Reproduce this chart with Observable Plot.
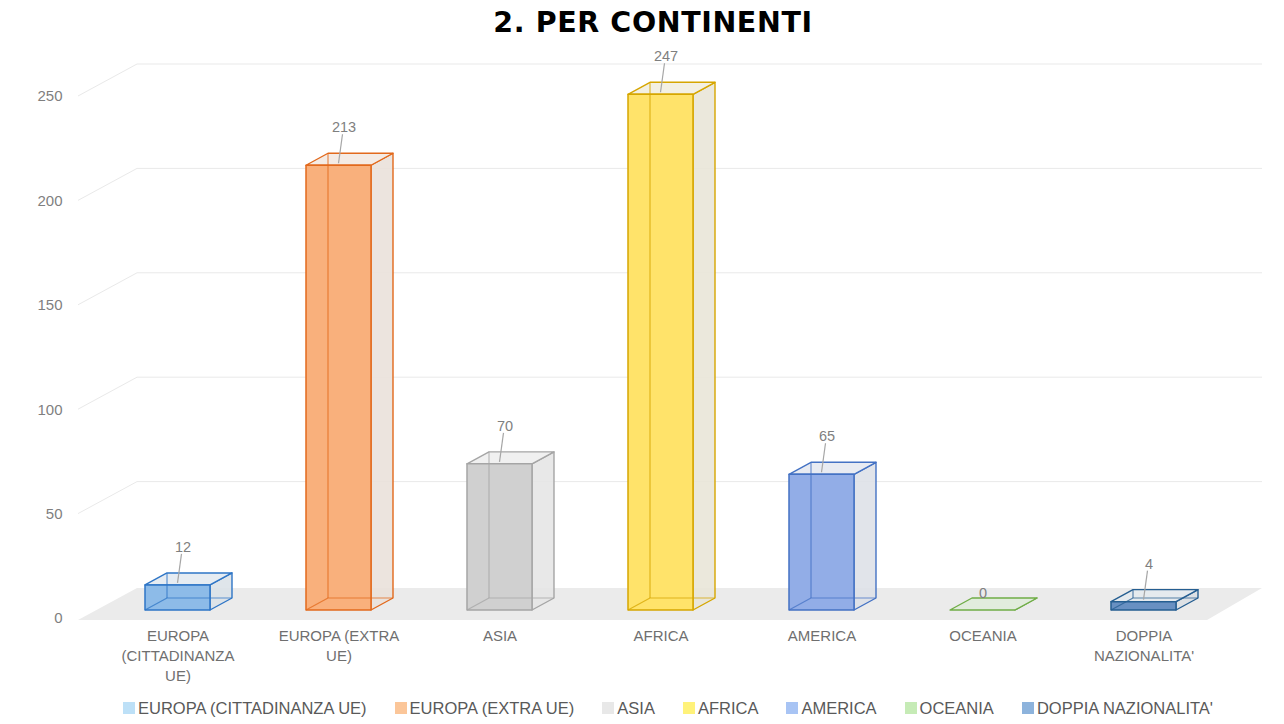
<!DOCTYPE html>
<html><head><meta charset="utf-8">
<script src="https://cdn.jsdelivr.net/npm/d3@7"></script>
<script src="https://cdn.jsdelivr.net/npm/@observablehq/plot@0.6"></script>
<style>
body{margin:0;background:#fff;font-family:"Liberation Sans",Arial,sans-serif;width:1284px;height:724px;overflow:hidden;}
#title{height:46px;line-height:46px;text-align:center;font-family:"DejaVu Sans",sans-serif;font-weight:bold;font-size:28.5px;letter-spacing:0.6px;color:#000;padding-left:22px;}
#chart{height:650px;}
#legend{display:flex;justify-content:center;align-items:center;height:24px;padding-left:52px;font-size:16.5px;color:#595959;}
#legend .item{display:flex;align-items:center;margin:0 14px;}
#legend .sw{width:12px;height:12px;margin-right:3px;}
</style></head><body>
<div id="title">2. PER CONTINENTI</div>
<div id="chart"></div>
<div id="legend"></div>
<script>
const categories = ["EUROPA (CITTADINANZA UE)", "EUROPA (EXTRA UE)", "ASIA", "AFRICA", "AMERICA", "OCEANIA", "DOPPIA NAZIONALITA'"];
const values = [12, 213, 70, 247, 65, 0, 4];
const tickLabels = ["EUROPA\n(CITTADINANZA\nUE)", "EUROPA (EXTRA\nUE)", "ASIA", "AFRICA", "AMERICA", "OCEANIA", "DOPPIA\nNAZIONALITA'"];
const strokeColors = ["#2e75c6", "#e2691c", "#a5a5a5", "#d6a600", "#4472c4", "#70ad47", "#255e91"];
const faceColors = ["#8dbbe8", "#f9b07c", "#d0d0d0", "#ffe36a", "#92ade7", "#e2ecdd", "#6890c2"];
const legendColors = ["#bde0f7", "#fbc699", "#e8e8e8", "#fff27a", "#a8c4f4", "#c6ebb6", "#8db3dc"];
const yTicks = [0, 50, 100, 150, 200, 250];

const data = categories.map((c, i) => ({cat: c, value: values[i], i}));

const W = 1284, H = 650, ML = 97, MR = 60, MT = 42, MB = 86;

function pts(a) { return a.map(p => p.join(",")).join(" "); }

function floorAndGrid(index, scales, vals, dims) {
  const g = d3.create("svg:g");
  const y = scales.y;
  const left = dims.marginLeft, right = dims.width - dims.marginRight;
  const fx0 = left - 19, bx0 = left + 40, fx1 = right - 17, bx1 = right + 38;
  g.append("polygon")
    .attr("points", pts([[fx0, y(0) + 10], [fx1, y(0) + 10], [bx1, y(0) - 22], [bx0, y(0) - 22]]))
    .attr("fill", "#ebebeb");
  for (const t of yTicks) {
    if (t === 0) continue;
    g.append("polyline")
      .attr("points", pts([[fx0, y(t) + 8], [bx0, y(t) - 24], [bx1, y(t) - 24]]))
      .attr("fill", "none").attr("stroke", "#e9e9e9").attr("stroke-width", 1);
  }
  return g.node();
}

function bars3D(index, scales, vals, dims) {
  const g = d3.create("svg:g");
  const n = categories.length;
  const bw = scales.x.bandwidth ? scales.x.bandwidth() : (dims.width - dims.marginLeft - dims.marginRight) / n;
  const FW = 65, DX = 22, DY = -12;
  for (const i of index) {
    const d = data[i];
    const sc = strokeColors[d.i], fc = faceColors[d.i];
    const side = d3.interpolateRgb("#ebebeb", sc)(0.08);
    const top = d3.interpolateRgb("#f6f6f6", sc)(0.08);
    const cx = scales.x(d.cat) + bw / 2;
    const x0 = cx - FW / 2, x1 = cx + FW / 2;
    const yb = scales.y(0), yt = scales.y(d.value);
    const bg = g.append("g").attr("stroke-linejoin", "round");
    bg.append("polygon").attr("points", pts([[x1, yb], [x1 + DX, yb + DY], [x1 + DX, yt + DY], [x1, yt]]))
      .attr("fill", side).attr("fill-opacity", 0.9).attr("stroke", sc).attr("stroke-width", 1.4);
    bg.append("polygon").attr("points", pts([[x0, yt], [x1, yt], [x1 + DX, yt + DY], [x0 + DX, yt + DY]]))
      .attr("fill", d.value === 0 ? fc : top).attr("stroke", sc).attr("stroke-width", 1.4);
    if (d.value > 0) {
      bg.append("rect").attr("x", x0).attr("y", yt).attr("width", FW).attr("height", yb - yt)
        .attr("fill", fc);
      bg.append("polyline").attr("points", pts([[x0, yb], [x0 + DX, yb + DY], [x1 + DX, yb + DY]]))
        .attr("fill", "none").attr("stroke", sc).attr("stroke-opacity", 0.75).attr("stroke-width", 1.2);
      bg.append("line").attr("x1", x0 + DX).attr("y1", yb + DY).attr("x2", x0 + DX).attr("y2", yt + DY)
        .attr("stroke", sc).attr("stroke-opacity", 0.75).attr("stroke-width", 1.2);
      bg.append("rect").attr("x", x0).attr("y", yt).attr("width", FW).attr("height", yb - yt)
        .attr("fill", "none").attr("stroke", sc).attr("stroke-width", 1.5);
      g.append("line").attr("x1", cx + 4).attr("y1", yt - 31).attr("x2", cx).attr("y2", yt - 2)
        .attr("stroke", "#a6a6a6").attr("stroke-width", 1.2);
    }
  }
  return g.node();
}

const plot = Plot.plot({
  width: W, height: H,
  marginLeft: ML, marginRight: MR, marginTop: MT, marginBottom: MB,
  x: {type: "band", domain: categories, padding: 0, axis: null},
  y: {domain: [0, 250], axis: null},
  style: {fontFamily: "'Liberation Sans', Arial, sans-serif", background: "transparent"},
  marks: [
    floorAndGrid,
    Plot.barY(data, {x: "cat", y: "value", render: bars3D}),
    Plot.text(yTicks, {y: d => d, text: d => String(d), frameAnchor: "left", textAnchor: "end", dx: -35, dy: 8, fill: "#7f7f7f", fontSize: 15}),
    Plot.text(data, {x: "cat", text: d => tickLabels[d.i], frameAnchor: "bottom", lineAnchor: "top", dy: 16, lineHeight: 1.33, fill: "#6f6f6f", fontSize: 15}),
    Plot.text(data.filter(d => d.value > 0), {x: "cat", y: "value", text: d => String(d.value), dx: 5, dy: -38, fill: "#7f7f7f", fontSize: 14.5}),
    Plot.text(data.filter(d => d.value === 0), {x: "cat", y: "value", text: d => String(d.value), dx: 0, dy: -17, fill: "#7f7f7f", fontSize: 14.5})
  ]
});
document.getElementById("chart").appendChild(plot);

const leg = d3.select("#legend");
categories.forEach((c, i) => {
  const it = leg.append("div").attr("class", "item");
  it.append("div").attr("class", "sw").style("background", legendColors[i]);
  it.append("span").text(c);
});
</script>
</body></html>
